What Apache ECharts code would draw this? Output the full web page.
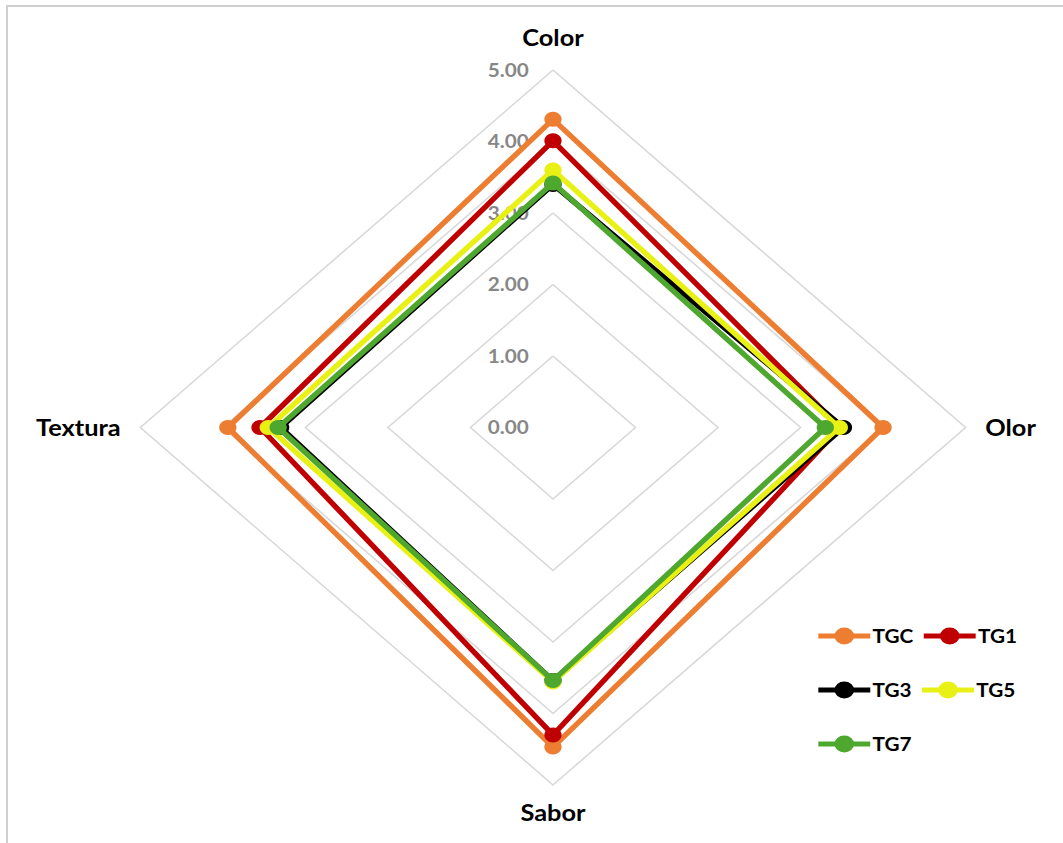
<!DOCTYPE html>
<html>
<head>
<meta charset="utf-8">
<title>Evaluación sensorial</title>
<script src="https://cdn.jsdelivr.net/npm/echarts@6/dist/echarts.min.js"></script>
<style>
  html, body { margin: 0; padding: 0; background: #ffffff; width: 1063px; height: 843px; overflow: hidden; }
  #frame { position: absolute; left: 6px; top: 5px; width: 1100px; height: 900px;
           border-left: 2px solid #d0d0d0; border-top: 2px solid #d0d0d0; }
  /* the plot is laid out 921px wide and widened to the full 1063px page */
  #chart { position: absolute; left: 0; top: 0; width: 921px; height: 843px;
           transform: scaleX(1.1542); transform-origin: 0 0; }
</style>
</head>
<body>
<div id="frame"></div>
<div id="chart"></div>
<script>
// Sensory attributes, clockwise from the top
const categories = ['Color', 'Olor', 'Sabor', 'Textura'];
const seriesNames = ['TGC', 'TG1', 'TG3', 'TG5', 'TG7'];

// Mean scores per attribute (Color, Olor, Sabor, Textura)
const tgc = [4.31, 4.00, 4.47, 3.94];
const tg1 = [4.01, 3.48, 4.30, 3.55];
const tg3 = [3.40, 3.52, 3.54, 3.30];
const tg5 = [3.60, 3.47, 3.56, 3.45];
const tg7 = [3.42, 3.30, 3.54, 3.33];

const seriesValues = [tgc, tg1, tg3, tg5, tg7];
const seriesColors = ['#ED7D31', '#C00000', '#000000', '#E9F014', '#4EA72E'];

// Radial scale
const axisMin = 0;
const axisMax = 5;
const axisSplits = 5;
const tickDecimals = 2;

// ECharts lays indicators out counter-clockwise from the top,
// so walk the categories as Color, Textura, Sabor, Olor.
const drawOrder = [0, 3, 2, 1];

const FONT = 'Lato, "Open Sans", sans-serif';

const indicators = drawOrder.map(function (i, k) {
  const ind = { name: categories[i], min: axisMin, max: axisMax };
  if (k === 0) {
    ind.nameTextStyle = { padding: [0, 0, 4, 0] };
    ind.axisLabel = {
      show: true,
      color: '#878787',
      fontSize: 18,
      fontWeight: 'bold',
      fontFamily: FONT,
      margin: 21,
      formatter: function (v) { return Number(v).toFixed(tickDecimals); }
    };
  }
  return ind;
});

// line with a round marker, used as legend key
const legendIcon = 'path://M0,6 H45 V11 H0 Z M14,8.5 A8.5,8.5 0 1 1 31,8.5 A8.5,8.5 0 1 1 14,8.5 Z';

const legendBase = {
  orient: 'horizontal',
  left: 709,
  padding: 0,
  itemWidth: 45,
  itemHeight: 17,
  itemGap: 9,
  icon: legendIcon,
  selectedMode: false,
  textStyle: { color: '#000000', fontSize: 18, fontWeight: 'bold', fontFamily: FONT, padding: [0, 0, 0, -3] }
};

const series = seriesNames.map(function (name, s) {
  return {
    type: 'radar',
    name: name,
    symbol: 'circle',
    symbolSize: 15,
    z: 2 + s,
    lineStyle: { color: seriesColors[s], width: 5 },
    itemStyle: { color: seriesColors[s] },
    data: [{ name: name, value: drawOrder.map(function (i) { return seriesValues[s][i]; }) }]
  };
});

const chart = echarts.init(document.getElementById('chart'), null, { renderer: 'svg' });
chart.setOption({
  backgroundColor: 'transparent',
  animation: false,
  legend: [
    Object.assign({}, legendBase, { top: 627, data: ['TGC', 'TG1'] }),
    Object.assign({}, legendBase, { top: 681, data: ['TG3', 'TG5'] }),
    Object.assign({}, legendBase, { top: 735, data: ['TG7'] })
  ],
  radar: {
    center: [479.1, 427.5],
    radius: 357.5,
    startAngle: 90,
    shape: 'polygon',
    splitNumber: axisSplits,
    nameGap: 17,
    axisName: { color: '#000000', fontSize: 22, fontWeight: 'bold', fontFamily: FONT },
    splitLine: { lineStyle: { color: '#d9d9d9', width: 1.5 } },
    splitArea: { show: false },
    axisLine: { show: false },
    axisTick: { show: false },
    axisLabel: { show: false },
    indicator: indicators
  },
  series: series
});
</script>
</body>
</html>
